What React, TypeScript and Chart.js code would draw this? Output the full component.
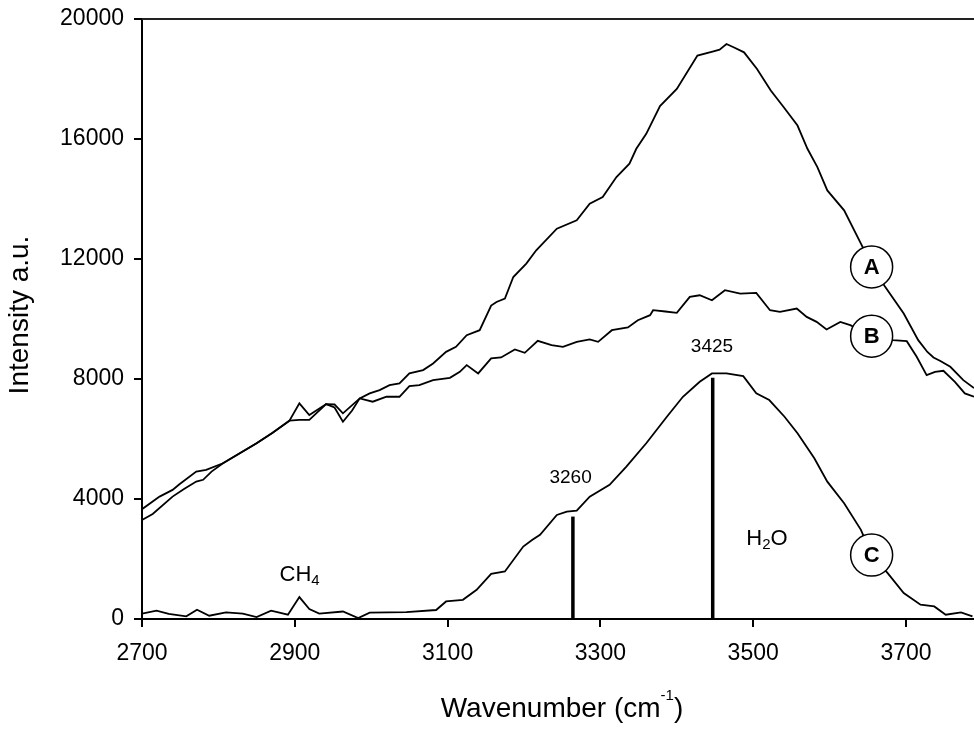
import React, { useEffect, useRef } from 'react';
import { Chart, registerables } from 'chart.js';

Chart.register(...registerables);

const FONT = "'Liberation Sans', Arial, Helvetica, sans-serif";

// Curve A
const wavenumberA = [2700, 2714, 2740, 2755, 2771, 2780, 2791, 2806, 2828, 2850, 2871, 2893, 2906, 2919, 2941, 2952, 2963, 2975, 2985, 2998, 3011, 3024, 3037, 3050, 3068, 3081, 3098, 3111, 3125, 3142, 3157, 3164, 3175, 3186, 3203, 3216, 3243, 3269, 3286, 3303, 3321, 3338, 3347, 3360, 3378, 3400, 3427, 3448, 3456, 3465, 3475, 3488, 3505, 3523, 3540, 3558, 3571, 3584, 3597, 3619, 3641, 3655, 3672, 3697, 3716, 3728, 3736, 3745, 3758, 3775, 3789];
const intensityA = [3300, 3500, 4080, 4330, 4580, 4640, 4912, 5191, 5524, 5857, 6210, 6610, 6640, 6640, 7165, 7050, 6576, 6950, 7354, 7520, 7630, 7797, 7853, 8186, 8296, 8519, 8905, 9071, 9461, 9627, 10450, 10569, 10682, 11400, 11847, 12290, 13011, 13288, 13843, 14065, 14730, 15175, 15674, 16173, 17100, 17670, 18779, 18922, 18980, 19168, 19050, 18889, 18336, 17614, 17060, 16449, 15674, 15062, 14286, 13621, 12513, 11800, 11100, 10183, 9295, 8900, 8719, 8600, 8406, 7963, 7700];

// Curve B
const wavenumberB = [2700, 2723, 2740, 2749, 2771, 2784, 2806, 2828, 2850, 2871, 2893, 2906, 2919, 2941, 2952, 2963, 2985, 3002, 3020, 3037, 3050, 3063, 3081, 3103, 3116, 3125, 3140, 3157, 3170, 3188, 3201, 3218, 3236, 3251, 3269, 3286, 3297, 3315, 3336, 3349, 3365, 3369, 3385, 3400, 3417, 3430, 3446, 3463, 3483, 3504, 3522, 3535, 3557, 3570, 3583, 3596, 3614, 3627, 3655, 3683, 3701, 3714, 3727, 3738, 3749, 3764, 3777, 3789];
const intensityB = [3660, 4080, 4303, 4492, 4912, 4968, 5191, 5524, 5857, 6210, 6610, 7187, 6800, 7165, 7150, 6855, 7354, 7243, 7408, 7408, 7764, 7797, 7963, 8040, 8240, 8463, 8186, 8685, 8719, 8985, 8873, 9271, 9128, 9071, 9238, 9318, 9238, 9627, 9717, 9960, 10127, 10293, 10250, 10203, 10735, 10792, 10626, 10959, 10849, 10869, 10293, 10236, 10349, 10070, 9904, 9650, 9904, 9793, 9450, 9295, 9260, 8740, 8130, 8240, 8274, 7907, 7520, 7408];

// Curve C
const wavenumberC = [2700, 2719, 2735, 2758, 2772, 2788, 2810, 2832, 2850, 2869, 2891, 2906, 2919, 2932, 2963, 2983, 2998, 3046, 3085, 3098, 3120, 3138, 3157, 3175, 3199, 3211, 3221, 3243, 3256, 3269, 3286, 3312, 3334, 3360, 3387, 3408, 3430, 3446, 3465, 3487, 3504, 3521, 3541, 3558, 3580, 3597, 3619, 3641, 3655, 3676, 3697, 3719, 3737, 3752, 3772, 3787];
const intensityC = [180, 277, 170, 90, 310, 110, 220, 180, 65, 277, 143, 730, 330, 180, 250, 30, 210, 230, 300, 585, 640, 975, 1507, 1584, 2416, 2640, 2805, 3470, 3580, 3614, 4080, 4470, 5080, 5857, 6742, 7408, 7907, 8186, 8186, 8096, 7520, 7298, 6742, 6190, 5357, 4579, 3860, 2972, 2150, 1531, 865, 476, 420, 143, 220, 87];

// Peak markers
const stickX = [3264, 3447];
const stickTop = [3414, 8040];
const peakLabels = ['3260', '3425'];
const peakLabelX = [3261, 3446];
const peakLabelY = [4712, 9071];

// Species labels (digits drawn as subscripts)
const speciesLabels = ['CH4', 'H2O'];
const speciesX = [2880, 3491];
const speciesY = [1541, 2749];

// Curve name circles
const curveNames = ['A', 'B', 'C'];
const circleX = [3655, 3655, 3655];
const circleY = [11734, 9428, 2130];

// Axes
const xMin = 2700;
const xMax = 3789;
const xTickValues = [2700, 2900, 3100, 3300, 3500, 3700];
const yMin = 0;
const yMax = 20000;
const yTickValues = [0, 4000, 8000, 12000, 16000, 20000];
const xTitleMain = 'Wavenumber (cm';
const xTitleSup = '-1';
const xTitleEnd = ')';
const yTitle = 'Intensity a.u.';

export default function App() {
  const ref = useRef<HTMLCanvasElement>(null);

  useEffect(() => {
    const canvas = ref.current;
    if (!canvas) return;
    const pts = (xs: number[], ys: number[]) => xs.map((x, i) => ({ x, y: ys[i] }));
    const curve = (xs: number[], ys: number[]) => ({
      data: pts(xs, ys),
      borderColor: '#000',
      borderWidth: 1.8,
      pointRadius: 0,
      fill: false,
      tension: 0,
    });
    const sticks = stickX.map((x, i) => ({
      data: [{ x, y: 0 }, { x, y: stickTop[i] }],
      borderColor: '#000',
      borderWidth: 3.5,
      pointRadius: 0,
      fill: false,
      clip: false as any,
    }));

    const annot = {
      id: 'annot',
      afterDatasetsDraw(chart: any) {
        const ctx = chart.ctx as CanvasRenderingContext2D;
        const xs = chart.scales.x;
        const ys = chart.scales.y;
        const area = chart.chartArea;
        ctx.save();
        // top frame line
        ctx.strokeStyle = '#222';
        ctx.lineWidth = 2;
        ctx.beginPath();
        ctx.moveTo(area.left, area.top);
        ctx.lineTo(area.right, area.top);
        ctx.stroke();

        // circles with curve names
        curveNames.forEach((name, i) => {
          const cx = xs.getPixelForValue(circleX[i]);
          const cy = ys.getPixelForValue(circleY[i]);
          ctx.beginPath();
          ctx.arc(cx, cy, 21, 0, Math.PI * 2);
          ctx.fillStyle = '#fff';
          ctx.fill();
          ctx.lineWidth = 1.5;
          ctx.strokeStyle = '#000';
          ctx.stroke();
          ctx.fillStyle = '#000';
          ctx.font = `bold 22px ${FONT}`;
          ctx.textAlign = 'center';
          ctx.textBaseline = 'middle';
          ctx.fillText(name, cx, cy + 1);
        });

        // peak labels
        ctx.fillStyle = '#000';
        ctx.font = `19px ${FONT}`;
        ctx.textAlign = 'center';
        ctx.textBaseline = 'middle';
        peakLabels.forEach((t, i) => {
          ctx.fillText(t, xs.getPixelForValue(peakLabelX[i]), ys.getPixelForValue(peakLabelY[i]));
        });

        // species labels with subscripts
        ctx.textAlign = 'left';
        ctx.textBaseline = 'alphabetic';
        speciesLabels.forEach((t, i) => {
          let px = xs.getPixelForValue(speciesX[i]);
          const base = ys.getPixelForValue(speciesY[i]) + 8;
          for (const ch of t) {
            if (/[0-9]/.test(ch)) {
              ctx.font = `15px ${FONT}`;
              ctx.fillText(ch, px, base + 4);
              px += ctx.measureText(ch).width;
            } else {
              ctx.font = `22px ${FONT}`;
              ctx.fillText(ch, px, base);
              px += ctx.measureText(ch).width;
            }
          }
        });

        // x axis title with superscript
        const mainFont = `28px ${FONT}`;
        const supFont = `15px ${FONT}`;
        ctx.font = mainFont;
        const w1 = ctx.measureText(xTitleMain).width;
        const w3 = ctx.measureText(xTitleEnd).width;
        ctx.font = supFont;
        const w2 = ctx.measureText(xTitleSup).width;
        const total = w1 + w2 + w3;
        const cxT = (area.left + area.right) / 2 + 4;
        const baseT = area.bottom + 98;
        let sx = cxT - total / 2;
        ctx.textAlign = 'left';
        ctx.textBaseline = 'alphabetic';
        ctx.font = mainFont;
        ctx.fillText(xTitleMain, sx, baseT);
        sx += w1;
        ctx.font = supFont;
        ctx.fillText(xTitleSup, sx, baseT - 17);
        sx += w2;
        ctx.font = mainFont;
        ctx.fillText(xTitleEnd, sx, baseT);

        // y axis title
        ctx.save();
        ctx.translate(28, (area.top + area.bottom) / 2 - 4);
        ctx.rotate(-Math.PI / 2);
        ctx.font = mainFont;
        ctx.textAlign = 'center';
        ctx.textBaseline = 'alphabetic';
        ctx.fillText(yTitle, 0, 0);
        ctx.restore();

        ctx.restore();
      },
    };

    const chart = new Chart(canvas, {
      type: 'line',
      data: {
        datasets: [
          curve(wavenumberA, intensityA),
          curve(wavenumberB, intensityB),
          curve(wavenumberC, intensityC),
          ...sticks,
        ] as any,
      },
      options: {
        responsive: false,
        animation: false,
        events: [],
        layout: { padding: { top: 19, right: 0, left: 0, bottom: 0 } },
        plugins: { legend: { display: false }, tooltip: { enabled: false }, title: { display: false } },
        scales: {
          x: {
            type: 'linear',
            min: xMin,
            max: xMax,
            afterBuildTicks(scale: any) {
              scale.ticks = xTickValues.map((v) => ({ value: v }));
            },
            afterFit(scale: any) {
              scale.height = 110;
            },
            ticks: {
              autoSkip: false,
              maxRotation: 0,
              padding: 13,
              color: '#000',
              font: { family: FONT, size: 23 },
              callback: (v: any) => String(v),
            },
            grid: { drawOnChartArea: false, drawTicks: true, tickLength: 8, color: '#000', lineWidth: 2 },
            border: { display: true, color: '#000', width: 2 },
          },
          y: {
            type: 'linear',
            min: yMin,
            max: yMax,
            afterBuildTicks(scale: any) {
              scale.ticks = yTickValues.map((v) => ({ value: v }));
            },
            afterFit(scale: any) {
              scale.width = 142;
            },
            ticks: {
              padding: 10,
              color: '#000',
              font: { family: FONT, size: 23, lineHeight: 0.75 },
              callback: (v: any) => String(v),
            },
            grid: { drawOnChartArea: false, drawTicks: true, tickLength: 8, color: '#000', lineWidth: 2 },
            border: { display: true, color: '#000', width: 2 },
          },
        },
      } as any,
      plugins: [annot],
    });
    return () => chart.destroy();
  }, []);

  return (
    <div style={{ position: 'fixed', left: 0, top: 0, width: 974, height: 729, background: '#fff' }}>
      <canvas ref={ref} width={974} height={729} style={{ display: 'block' }} />
    </div>
  );
}
